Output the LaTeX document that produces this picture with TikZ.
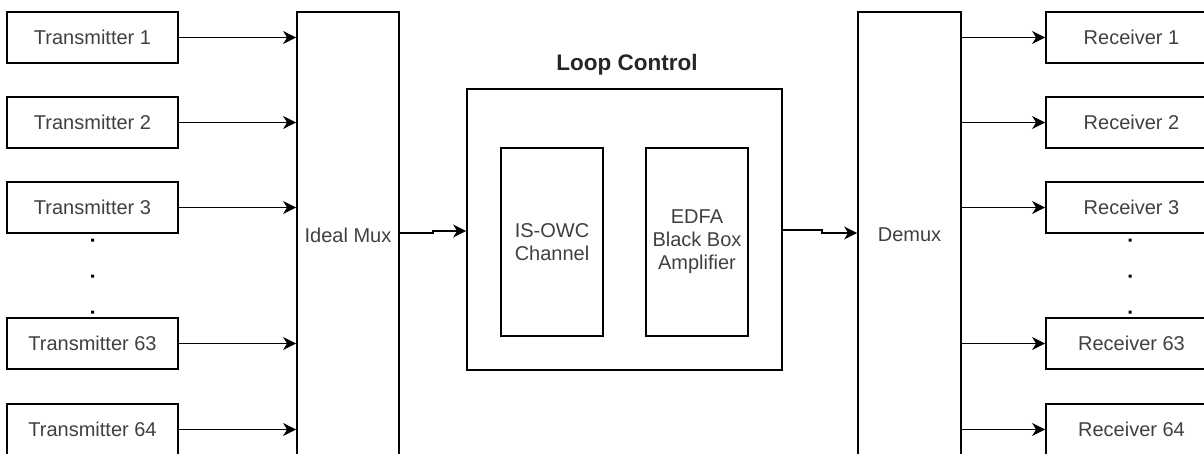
\documentclass[tikz,border=0pt]{standalone}
\usepackage{fontspec}
\setmainfont{Liberation Sans}
\usetikzlibrary{arrows.meta}

\tikzset{
  block/.style={draw, line width=1.8pt, text=black!75, align=center,
    font=\fontsize{20}{23}\selectfont, inner sep=0pt},
  endbox/.style={block, minimum width=171pt, minimum height=51pt},
  signal/.style={line width=1.8pt, -{Stealth[length=13pt, width=13pt, inset=4pt]}},
}

\begin{document}
\begin{tikzpicture}[x=1pt, y=-1pt]

\useasboundingbox (0,0) rectangle (1204,453);
\clip (0,0) rectangle (1204,453);

% transmitters
\path[every node/.style={endbox}]
(92.5,37.5) node (tx-1) {Transmitter 1}
(92.5,122.5) node (tx-2) {Transmitter 2}
(92.5,207.5) node (tx-3) {Transmitter 3}
(92.5,343.5) node (tx-63) {Transmitter 63}
(92.5,429.5) node (tx-64) {Transmitter 64}
;

% receivers
\path[every node/.style={endbox}]
(1131.5,37.5) node (rx-1) {Receiver 1}
(1131.5,122.5) node (rx-2) {Receiver 2}
(1131.5,207.5) node (rx-3) {Receiver 3}
(1131.5,343.5) node (rx-63) {Receiver 63}
(1131.5,429.5) node (rx-64) {Receiver 64}
;

% dots between channel 3 and 63
\fill
(91,238.5) rectangle ++(3,3) (91,274.5) rectangle ++(3,3) (91,310.5) rectangle ++(3,3)
(1128.5,238.5) rectangle ++(3,3) (1128.5,274.5) rectangle ++(3,3) (1128.5,310.5) rectangle ++(3,3)
;

% mux and demux
\node[block, minimum width=102pt, minimum height=446pt] (mux) at (348,235) {Ideal Mux};
\node[block, minimum width=103pt, minimum height=446pt] (demux) at (909.5,235) {Demux};

% loop control
\node[block, minimum width=315pt, minimum height=281pt] (loop) at (624.5,229.5) {};
\node[font=\fontsize{22.5}{26}\selectfont\bfseries, text=black!85] (loop-title) at (627,65) {Loop Control};
\node[block, minimum width=102.6pt, minimum height=188pt] (owc) at (552,242) {IS-OWC\\Channel};
\node[block, minimum width=102.6pt, minimum height=188pt] (edfa) at (697,242) {EDFA\\Black Box\\Amplifier};

% channels into mux
\draw[signal] (tx-1) -- (tx-1 -| mux.west);
\draw[signal] (tx-2) -- (tx-2 -| mux.west);
\draw[signal] (tx-3) -- (tx-3 -| mux.west);
\draw[signal] (tx-63) -- (tx-63 -| mux.west);
\draw[signal] (tx-64) -- (tx-64 -| mux.west);

% channels out of demux
\draw[signal] (rx-1 -| demux.east) -- (rx-1);
\draw[signal] (rx-2 -| demux.east) -- (rx-2);
\draw[signal] (rx-3 -| demux.east) -- (rx-3);
\draw[signal] (rx-63 -| demux.east) -- (rx-63);
\draw[signal] (rx-64 -| demux.east) -- (rx-64);

% through the loop
\path
(433,233) coordinate (jog-in-A)
(433,231) coordinate (jog-in-B)
(822,230) coordinate (jog-out-A)
(822,233) coordinate (jog-out-B)
;
\draw[signal] (mux.east |- jog-in-A) -- (jog-in-A) -- (jog-in-B) -- (loop.west |- jog-in-B);
\draw[signal] (loop.east |- jog-out-A) -- (jog-out-A) -- (jog-out-B) -- (demux.west |- jog-out-B);

\end{tikzpicture}
\end{document}
